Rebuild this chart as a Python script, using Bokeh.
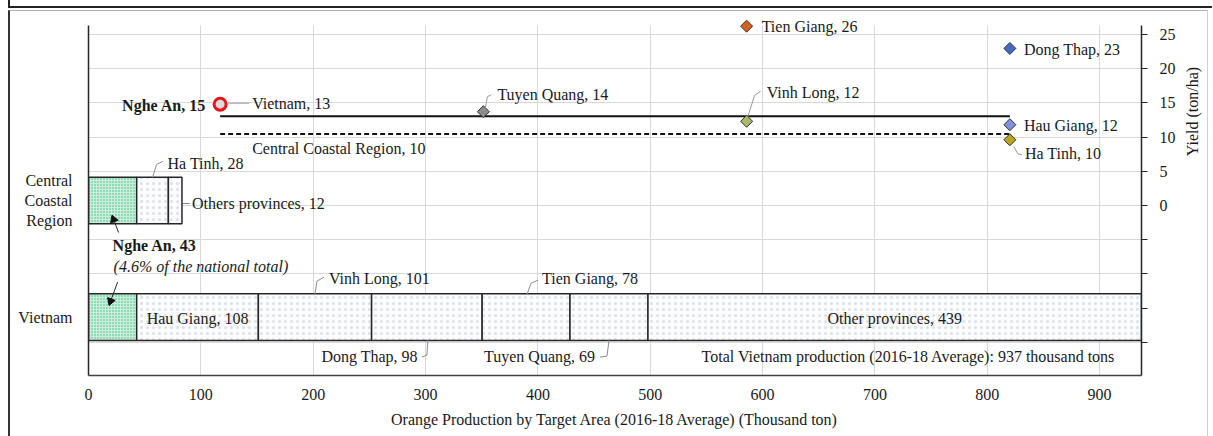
import math
from bokeh.plotting import figure
from bokeh.models import ColumnDataSource, Range1d, LinearAxis, FixedTicker, Grid, BoxAnnotation, InlineStyleSheet
from bokeh.core.properties import value
from bokeh.embed import file_html
from bokeh.resources import INLINE

# ---------------- data ----------------
row_labels = ["Vietnam", "Central\nCoastal\nRegion", ""]          # bottom -> top
vn_provinces = ["Nghe An", "Hau Giang", "Vinh Long", "Dong Thap", "Tien Giang", "Tuyen Quang", "Other provinces"]
vn_production = [42.9, 108.3, 100.8, 98.4, 78.2, 69.4, 439.3]
ccr_provinces = ["Nghe An", "Ha Tinh", "Others provinces"]
ccr_production = [42.9, 28.2, 12.1]
x_ticks = [0, 100, 200, 300, 400, 500, 600, 700, 800, 900]
yield_ticks_labeled = [0, 5, 10, 15, 20, 25]
yield_ticks_unlabeled = [-20, -15, -10, -5]
slots = ["1", "2", "3", "4"]
yield_provinces = ["Nghe An", "Tuyen Quang", "Vinh Long", "Tien Giang", "Dong Thap", "Hau Giang", "Ha Tinh"]
yield_values = [14.8, 13.7, 12.3, 26.2, 22.95, 11.8, 9.6]
yield_slot = ["1", "2", "3", "3", "4", "4", "4"]
yield_colors = ["#dcdcdc", "#8c8c8c", "#a9b96a", "#d8601c", "#4668c0", "#8090dc", "#b8a520"]
avg_names = ["Vietnam", "Central Coastal Region"]
avg_values = [13.05, 10.45]
yield_title = "Yield (ton/ha)"

# ---------------- layout / style constants ----------------
FONT = value("Liberation Serif")
FS = "16px"
TXT = "#1a1a1a"
FW, FH = 1053, 350           # axis area in px
TOP_PAD = 10                 # extra room above the axes so top markers are not clipped
YMIN, YMAX = -24.85, 26.3
TITLE_AT = 7.2               # where the right axis title starts (in yield units)
total = sum(vn_production)
n_rows = len(row_labels)

XU = total / FW              # data units per px on x
CU = n_rows / FH             # row units per px
SU = len(slots) / FW         # slot units per px
YU = (YMAX - YMIN) / FH      # yield units per px


def row_pos(name):
    return row_labels.index(name) + 0.5


def slot_pos(name):
    return slots.index(name) + 0.5


p = figure(frame_width=FW, frame_height=FH + TOP_PAD,
           x_range=Range1d(0, total), y_range=Range1d(0, n_rows + TOP_PAD * CU),
           output_backend="svg", toolbar_location=None,
           min_border_left=88, min_border_right=64, min_border_top=25 - TOP_PAD, min_border_bottom=56)
p.extra_y_ranges = {"yield": Range1d(YMIN, YMAX + TOP_PAD * YU)}
p.extra_x_ranges = {"slot": Range1d(0, len(slots))}
p.outline_line_color = None
p.background_fill_color = "white"
p.stylesheets = [InlineStyleSheet(css="""
:host { position: relative; }
:host::before { content: ""; position: absolute; left: 8px; top: 10px; right: 4px; bottom: -20px;
  border-left: 2px solid #333; border-top: 1px solid #b0b0b0; border-right: 1px solid #d0d0d0;
  pointer-events: none; z-index: 5; }
:host::after { content: ""; position: absolute; left: 8px; top: -20px; right: 0px; height: 26px;
  border-left: 2px solid #222; border-bottom: 2px solid #222; pointer-events: none; z-index: 5; }
""")]

# grids
p.xgrid.ticker = FixedTicker(ticks=x_ticks)
p.xgrid.grid_line_color = "#d9d9d9"
p.ygrid.visible = False
hgrid = Grid(dimension=1, ticker=FixedTicker(ticks=yield_ticks_unlabeled + yield_ticks_labeled),
             y_range_name="yield", grid_line_color="#d9d9d9")
p.add_layout(hgrid)
# blank strip above the axes top (keeps gridlines ending at the axes top)
p.add_layout(BoxAnnotation(bottom=YMAX, y_range_name="yield", fill_color="white", fill_alpha=1.0,
                           line_color=None, level="underlay"))

# bottom axis
xa = p.xaxis[0]
xa.ticker = FixedTicker(ticks=x_ticks)
xa.major_tick_line_color = None
xa.minor_tick_line_color = None
xa.axis_line_color = "#404040"
xa.axis_line_width = 1.5
xa.major_label_standoff = 7
xa.axis_label = "Orange Production by Target Area (2016-18 Average) (Thousand ton)"
xa.axis_label_standoff = 8

# left axis (row names)
ya = p.yaxis[0]
row_ticks = [row_pos(r) for r in row_labels[:2]]
ya.ticker = FixedTicker(ticks=row_ticks)
ya.major_label_overrides = {t: r for t, r in zip(row_ticks, row_labels[:2])}
ya.bounds = (0, n_rows)
ya.major_tick_line_color = None
ya.minor_tick_line_color = None
ya.axis_line_color = "#262626"
ya.axis_line_width = 1.5
ya.major_label_standoff = 10

# right axis
yr = LinearAxis(y_range_name="yield",
                ticker=FixedTicker(ticks=yield_ticks_labeled, minor_ticks=yield_ticks_unlabeled))
yr.bounds = (YMIN, YMAX)
yr.major_tick_in = 0
yr.major_tick_out = 6
yr.minor_tick_in = 0
yr.minor_tick_out = 6
yr.minor_tick_line_color = "#262626"
yr.major_tick_line_color = "#262626"
yr.axis_line_color = "#262626"
yr.axis_line_width = 1.5
yr.major_label_standoff = 12
p.add_layout(yr, "right")

# right axis title, reading bottom-to-top (drawn as the single label of a bare axis)
yt_axis = LinearAxis(y_range_name="yield", ticker=FixedTicker(ticks=[TITLE_AT], minor_ticks=[]),
                     major_label_overrides={TITLE_AT: yield_title},
                     major_label_orientation=math.pi / 2)
yt_axis.axis_line_color = None
yt_axis.major_tick_line_color = None
yt_axis.minor_tick_line_color = None
yt_axis.major_label_standoff = 8
p.add_layout(yt_axis, "right")

for ax in (xa, ya, yr, yt_axis):
    ax.major_label_text_font = "Liberation Serif"
    ax.major_label_text_font_size = FS
    ax.major_label_text_color = TXT
    ax.axis_label_text_font = "Liberation Serif"
    ax.axis_label_text_font_size = FS
    ax.axis_label_text_font_style = "normal"
    ax.axis_label_text_color = TXT


# ---------------- stacked bars ----------------
def stack(vals):
    lefts, rights, s = [], [], 0.0
    for v in vals:
        lefts.append(s)
        s += v
        rights.append(s)
    return lefts, rights


vn = row_pos(row_labels[0])
cc = row_pos(row_labels[1])
vn_l, vn_r = stack(vn_production)
cc_l, cc_r = stack(ccr_production)
bar_rows = [vn] * len(vn_production) + [cc] * len(ccr_production)
bar_names = vn_provinces + ccr_provinces
is_focus = [n == "Nghe An" for n in bar_names]
bars = ColumnDataSource(dict(
    y=bar_rows, left=vn_l + cc_l, right=vn_r + cc_r,
    fill=["#c9efdc" if f else "#fbfcfd" for f in is_focus],
    hcol=["#38bd7c" if f else "#dde1e5" for f in is_focus],
    hscale=[3.0 if f else 6.0 for f in is_focus],
))
p.hbar(y="y", left="left", right="right", height=0.4, source=bars,
       fill_color="fill", hatch_pattern="dot", hatch_color="hcol", hatch_scale="hscale",
       hatch_weight=1.0, line_color="#262626", line_width=1.5)

vn_c = [(a + b) / 2 for a, b in zip(vn_l, vn_r)]
cc_c = [(a + b) / 2 for a, b in zip(cc_l, cc_r)]


def lbl(name, v):
    return f"{name}, {round(v)}"


# bar label specs: (x anchor, row, text, align, dx px, dy px, leader pts px)
bar_text = [
    (vn_c[1], vn, lbl(vn_provinces[1], vn_production[1]), "center", 0, 1, None),
    (vn_c[2], vn, lbl(vn_provinces[2], vn_production[2]), "left", 14, -39, [(0, -23), (2, -36), (9, -40)]),
    (vn_c[3], vn, lbl(vn_provinces[3], vn_production[3]), "right", -9, 39, [(-5, 40), (0, 38), (1, 23)]),
    (vn_c[4], vn, lbl(vn_provinces[4], vn_production[4]), "left", 16, -39, [(1, -23), (5, -34), (12, -37)]),
    (vn_c[5], vn, lbl(vn_provinces[5], vn_production[5]), "right", -14, 39, [(-9, 40), (-2, 39), (0, 23)]),
    (vn_c[6], vn, lbl(vn_provinces[6], vn_production[6]), "center", 0, 1, None),
    (total, vn, f"Total Vietnam production (2016-18 Average): {round(total)} thousand tons", "right", -26, 39, None),
    (cc_c[1], cc, lbl(ccr_provinces[1], ccr_production[1]), "left", 15, -37, [(0, -23), (4, -36), (10, -39)]),
    (cc_r[2], cc, lbl(ccr_provinces[2], ccr_production[2]), "left", 10, 3, [(1, 3), (8, 3)]),
]
bt = ColumnDataSource(dict(
    x=[b[0] for b in bar_text], y=[b[1] for b in bar_text], text=[b[2] for b in bar_text],
    align=[b[3] for b in bar_text], dx=[b[4] for b in bar_text], dy=[b[5] for b in bar_text]))
p.text(x="x", y="y", text="text", source=bt, text_align="align", x_offset="dx", y_offset="dy",
       text_baseline="middle", text_font=FONT, text_font_size=FS, text_color=TXT)

# focus province annotation (Nghe An share)
share = ccr_production[0] / total * 100
p.text(x=[cc_c[0]], y=[cc], text=[lbl(ccr_provinces[0], ccr_production[0])], x_offset=0, y_offset=45,
       text_baseline="middle", text_font=FONT, text_font_size=FS, text_font_style="bold", text_color=TXT)
p.text(x=[cc_c[0]], y=[cc], text=[f"({share:.1f}% of the national total)"], x_offset=1, y_offset=66,
       text_baseline="middle", text_font=FONT, text_font_size=FS, text_font_style="italic", text_color=TXT)

# leaders on bar labels
lx0, ly0, lx1, ly1 = [], [], [], []
for b in bar_text:
    pts = b[6]
    if not pts:
        continue
    for a, c in zip(pts[:-1], pts[1:]):
        lx0.append(b[0] + a[0] * XU); ly0.append(b[1] - a[1] * CU)
        lx1.append(b[0] + c[0] * XU); ly1.append(b[1] - c[1] * CU)
p.segment(x0="x0", y0="y0", x1="x1", y1="y1",
          source=ColumnDataSource(dict(x0=lx0, y0=ly0, x1=lx1, y1=ly1)),
          line_color="#8c8c8c", line_width=1)

# arrows from the Nghe An annotation to both Nghe An segments
arrows = [(cc_c[0], cc, (6, 32), (1, 19)), (vn_c[0], vn, (5, -35), (-2, -16))]
ax0, ay0, ax1, ay1, ha = [], [], [], [], []
for xa_, row, s, e in arrows:
    ax0.append(xa_ + s[0] * XU); ay0.append(row - s[1] * CU)
    ax1.append(xa_ + e[0] * XU); ay1.append(row - e[1] * CU)
    ha.append(math.atan2(-(e[0] - s[0]), -(e[1] - s[1])))
p.segment(x0=ax0, y0=ay0, x1=ax1, y1=ay1, line_color="#262626", line_width=1)
p.scatter(x=ax1, y=ay1, angle=ha, marker="triangle", size=8, fill_color="#111111", line_color="#111111")

# ---------------- yield (right axis) ----------------
for v, dash in zip(avg_values, ["solid", "5 3"]):
    p.segment(x0=[slot_pos(slots[0])], y0=[v], x1=[slot_pos(slots[-1])], y1=[v],
              x_range_name="slot", y_range_name="yield", line_color="#111111", line_width=2,
              line_dash=dash)

ysx = [slot_pos(s) for s in yield_slot]
ys = ColumnDataSource(dict(x=ysx[1:], y=yield_values[1:], c=yield_colors[1:]))
p.scatter(x="x", y="y", source=ys, x_range_name="slot", y_range_name="yield",
          marker="square", angle=math.pi / 4, size=8.5, fill_color="c", line_color="#333333", line_width=1)
p.scatter(x=[ysx[0]], y=[yield_values[0]], x_range_name="slot", y_range_name="yield",
          marker="circle", size=12, fill_color=yield_colors[0], line_color="#e8141c", line_width=3)

# yield labels: (index, align, dx, dy, leader)
ylab = [
    (1, "left", 14, -17, [(2, -4), (4, -15), (8, -17)]),
    (2, "left", 20, -29, [(1, -4), (8, -26), (14, -30)]),
    (3, "left", 15, 0, None),
    (4, "left", 14, 1, None),
    (5, "left", 14, 1, None),
    (6, "left", 15, 14, [(4, 7), (8, 14), (12, 15)]),
]
yt = ColumnDataSource(dict(
    x=[ysx[d[0]] for d in ylab], y=[yield_values[d[0]] for d in ylab],
    text=[lbl(yield_provinces[d[0]], yield_values[d[0]]) for d in ylab],
    align=[d[1] for d in ylab], dx=[d[2] for d in ylab], dy=[d[3] for d in ylab]))
p.text(x="x", y="y", text="text", source=yt, x_range_name="slot", y_range_name="yield",
       text_align="align", x_offset="dx", y_offset="dy", text_baseline="middle",
       text_font=FONT, text_font_size=FS, text_color=TXT)
p.text(x=[ysx[0]], y=[yield_values[0]], text=[lbl(yield_provinces[0], yield_values[0])],
       x_range_name="slot", y_range_name="yield", text_align="right", x_offset=-14, y_offset=1,
       text_baseline="middle", text_font=FONT, text_font_size=FS, text_font_style="bold", text_color=TXT)

# average line labels
at = ColumnDataSource(dict(x=[slot_pos(slots[0])] * 2, y=avg_values,
                           text=[lbl(n, v) for n, v in zip(avg_names, avg_values)],
                           dy=[-13, 15]))
p.text(x="x", y="y", text="text", source=at, x_range_name="slot", y_range_name="yield",
       x_offset=32, y_offset="dy", text_baseline="middle",
       text_font=FONT, text_font_size=FS, text_color=TXT)

# leaders on yield labels
px0, py0, px1, py1 = [], [], [], []
for i, _, _, _, pts in ylab:
    if not pts:
        continue
    for a, c in zip(pts[:-1], pts[1:]):
        px0.append(ysx[i] + a[0] * SU); py0.append(yield_values[i] - a[1] * YU)
        px1.append(ysx[i] + c[0] * SU); py1.append(yield_values[i] - c[1] * YU)
x_first = slot_pos(slots[0])
px0.append(x_first + 8 * SU); py0.append(avg_values[0] + 13 * YU)
px1.append(x_first + 29 * SU); py1.append(avg_values[0] + 13 * YU)
p.segment(x0="x0", y0="y0", x1="x1", y1="y1",
          source=ColumnDataSource(dict(x0=px0, y0=py0, x1=px1, y1=py1)),
          x_range_name="slot", y_range_name="yield", line_color="#9a9a9a", line_width=1)

open("out.html", "w").write(file_html(p, INLINE))
